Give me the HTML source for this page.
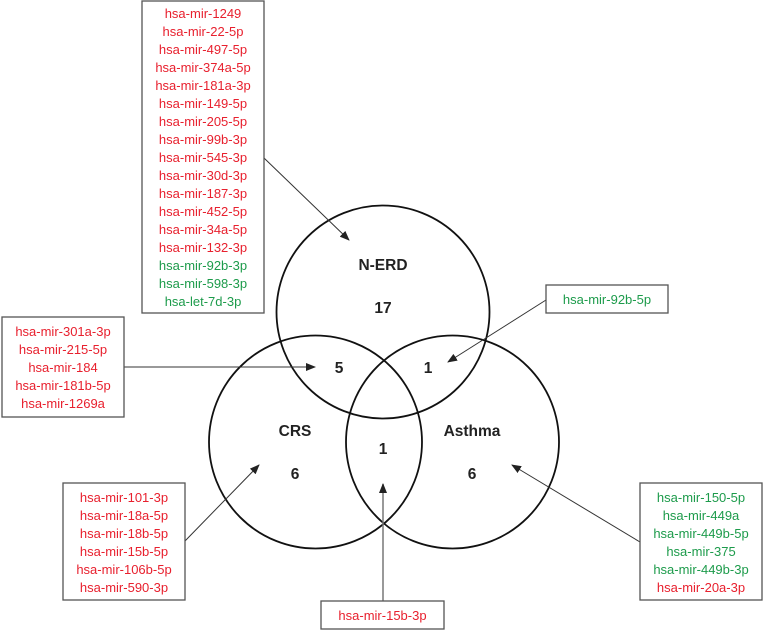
<!DOCTYPE html>
<html><head><meta charset="utf-8"><style>
body{margin:0;background:#fff;}
svg{display:block;}
.r{fill:#e8202e;}
.g{fill:#1d9b4b;}
text{font-family:"Liberation Sans",sans-serif;font-size:13px;text-anchor:middle;}
.b{font-weight:bold;font-size:15.5px;fill:#222;}
rect{fill:#fff;stroke:#555;stroke-width:1.3;}
</style></head><body>
<svg width="764" height="631" viewBox="0 0 764 631" xmlns="http://www.w3.org/2000/svg">
<defs><marker id="a" markerWidth="10" markerHeight="8" refX="9" refY="4" orient="auto" markerUnits="userSpaceOnUse"><path d="M0,0 L10,4 L0,8 z" fill="#222"/></marker></defs>
<g fill="none" stroke="#111" stroke-width="1.8">
<circle cx="383" cy="312" r="106.5"/>
<circle cx="315.5" cy="442" r="106.5"/>
<circle cx="452.5" cy="442" r="106.5"/>
</g>
<g stroke="#333" stroke-width="1" fill="none">
<line x1="264" y1="158" x2="349" y2="240" marker-end="url(#a)"/>
<line x1="124" y1="367" x2="315" y2="367" marker-end="url(#a)"/>
<line x1="546" y1="300" x2="448" y2="362" marker-end="url(#a)"/>
<line x1="185" y1="541" x2="259" y2="465" marker-end="url(#a)"/>
<line x1="383" y1="601" x2="383" y2="484" stroke="#777" stroke-width="1.5" marker-end="url(#a)"/>
<line x1="640" y1="542" x2="512" y2="465" marker-end="url(#a)"/>
</g>
<text class="b" x="383" y="270">N-ERD</text>
<text class="b" x="383" y="313">17</text>
<text class="b" x="339" y="373">5</text>
<text class="b" x="428" y="373">1</text>
<text class="b" x="295" y="436">CRS</text>
<text class="b" x="295" y="479">6</text>
<text class="b" x="383" y="454">1</text>
<text class="b" x="472" y="436">Asthma</text>
<text class="b" x="472" y="479">6</text>

<rect x="142" y="1" width="122" height="312"/>
<g transform="translate(203,0)">
<text class="r" y="18">hsa-mir-1249</text>
<text class="r" y="36">hsa-mir-22-5p</text>
<text class="r" y="54">hsa-mir-497-5p</text>
<text class="r" y="72">hsa-mir-374a-5p</text>
<text class="r" y="90">hsa-mir-181a-3p</text>
<text class="r" y="108">hsa-mir-149-5p</text>
<text class="r" y="126">hsa-mir-205-5p</text>
<text class="r" y="144">hsa-mir-99b-3p</text>
<text class="r" y="162">hsa-mir-545-3p</text>
<text class="r" y="180">hsa-mir-30d-3p</text>
<text class="r" y="198">hsa-mir-187-3p</text>
<text class="r" y="216">hsa-mir-452-5p</text>
<text class="r" y="234">hsa-mir-34a-5p</text>
<text class="r" y="252">hsa-mir-132-3p</text>
<text class="g" y="270">hsa-mir-92b-3p</text>
<text class="g" y="288">hsa-mir-598-3p</text>
<text class="g" y="306">hsa-let-7d-3p</text>
</g>

<rect x="2" y="317" width="122" height="100"/>
<g transform="translate(63,0)">
<text class="r" y="336">hsa-mir-301a-3p</text>
<text class="r" y="354">hsa-mir-215-5p</text>
<text class="r" y="372">hsa-mir-184</text>
<text class="r" y="390">hsa-mir-181b-5p</text>
<text class="r" y="408">hsa-mir-1269a</text>
</g>

<rect x="546" y="285" width="122" height="28"/>
<text class="g" x="607" y="304">hsa-mir-92b-5p</text>

<rect x="63" y="483" width="122" height="117"/>
<g transform="translate(124,0)">
<text class="r" y="502">hsa-mir-101-3p</text>
<text class="r" y="520">hsa-mir-18a-5p</text>
<text class="r" y="538">hsa-mir-18b-5p</text>
<text class="r" y="556">hsa-mir-15b-5p</text>
<text class="r" y="574">hsa-mir-106b-5p</text>
<text class="r" y="592">hsa-mir-590-3p</text>
</g>

<rect x="640" y="483" width="122" height="117"/>
<g transform="translate(701,0)">
<text class="g" y="502">hsa-mir-150-5p</text>
<text class="g" y="520">hsa-mir-449a</text>
<text class="g" y="538">hsa-mir-449b-5p</text>
<text class="g" y="556">hsa-mir-375</text>
<text class="g" y="574">hsa-mir-449b-3p</text>
<text class="r" y="592">hsa-mir-20a-3p</text>
</g>

<rect x="321" y="601" width="123" height="28"/>
<text class="r" x="382.5" y="620">hsa-mir-15b-3p</text>
</svg>
</body></html>
